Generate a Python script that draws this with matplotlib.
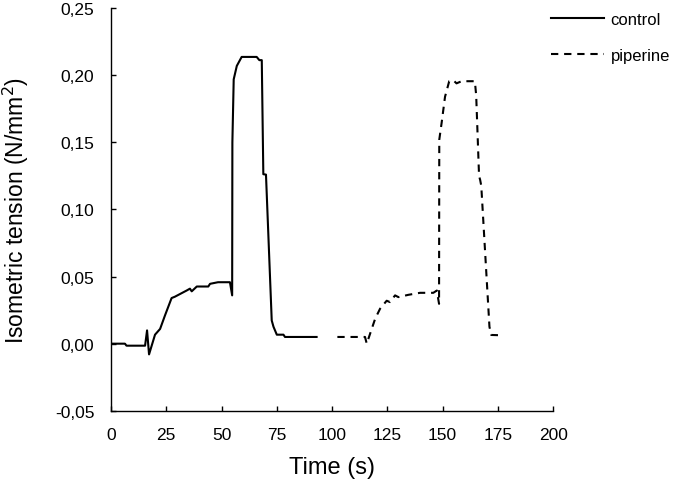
import matplotlib
matplotlib.use('Agg')
import matplotlib.pyplot as plt
from matplotlib.ticker import FuncFormatter, MultipleLocator

# data (time in s, tension in N/mm2)
control_t = [0, 6.3, 7.0, 15.4, 16.3, 17.2, 19.9, 22.2, 24.4, 27.4, 28.9, 31.2, 34.2,
             35.7, 36.5, 38.8, 44.0, 44.8, 48.4, 53.8, 54.8, 54.9, 55.5, 56.9, 59.1,
             65.9, 67.1, 68.2, 68.9, 70.1, 72.7, 73.5, 75.0, 78.0, 78.7, 93.0]
control_y = [0.0, 0.0, -0.0015, -0.0015, 0.0099, -0.008, 0.0067, 0.011, 0.021, 0.034,
             0.035, 0.037, 0.0396, 0.041, 0.039, 0.0426, 0.0426, 0.0446, 0.0458, 0.0458,
             0.036, 0.150, 0.197, 0.207, 0.2137, 0.2137, 0.2113, 0.2113, 0.1263, 0.126,
             0.0173, 0.0126, 0.0067, 0.0067, 0.005, 0.005]

piperine_t = [102.4, 114.9, 115.7, 117.2, 119.5, 121.7, 124.7, 126.2, 128.5, 130.0,
              134.5, 139.8, 145.8, 147.4, 148.4, 148.5, 149.6, 151.1, 153.0, 154.8,
              156.3, 158.6, 164.6, 165.2, 166.5, 167.0, 167.5, 171.2, 172.0, 177.5]
piperine_y = [0.005, 0.005, 0.0, 0.0074, 0.0186, 0.026, 0.032, 0.031, 0.036, 0.0347,
              0.0364, 0.0379, 0.0379, 0.0396, 0.0297, 0.152, 0.165, 0.184, 0.1956, 0.1964,
              0.194, 0.1956, 0.1956, 0.185, 0.125, 0.122, 0.1176, 0.0126, 0.0065, 0.0062]

x_ticks = [0, 25, 50, 75, 100, 125, 150, 175, 200]

plt.rcParams['font.family'] = ['Liberation Sans', 'DejaVu Sans']

fig = plt.figure(figsize=(6.77, 4.85), dpi=100)
ax = fig.add_axes([0.164, 0.151, 0.653, 0.830])

ax.plot(control_t, control_y, color='black', lw=1.5, label='control')
ax.plot(piperine_t, piperine_y, color='black', lw=1.5, ls=(0, (3.5, 2.8)), label='piperine')

ax.set_xlim(0, 200)
ax.set_ylim(-0.05, 0.25)
ax.set_xticks(x_ticks)
ax.yaxis.set_major_locator(MultipleLocator(0.05))
ax.yaxis.set_major_formatter(FuncFormatter(lambda v, p: f'{v:.2f}'.replace('.', ',').replace('-0,00', '0,00')))

ax.spines['top'].set_visible(False)
ax.spines['right'].set_visible(False)
for s in ['left', 'bottom']:
    ax.spines[s].set_linewidth(1.0)
ax.tick_params(direction='in', length=3.5, width=1.0, labelsize=12.5, pad=12)

ax.set_xlabel('Time (s)', fontsize=17, labelpad=10)
ax.set_ylabel('Isometric tension (N/mm$^2$)', fontsize=16.5)
ax.yaxis.set_label_coords(-0.181, 0.5)

fig.legend(loc='upper left', bbox_to_anchor=(0.796, 0.998), frameon=False, fontsize=12,
           handlelength=3.2, handletextpad=0.4, labelspacing=1.3, borderpad=0.2)

fig.savefig('out.png', dpi=100)
